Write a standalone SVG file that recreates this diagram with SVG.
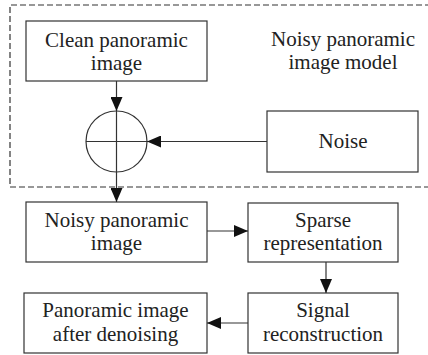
<svg xmlns="http://www.w3.org/2000/svg" width="428" height="355" viewBox="0 0 428 355">
<style>
.box{fill:#fff;stroke:#333;stroke-width:1.2}
.ln{fill:none;stroke:#333;stroke-width:1.2}
.dash{fill:none;stroke:#333;stroke-width:1.2;stroke-dasharray:6,3}
</style>
<defs>
<marker id="ah" markerUnits="userSpaceOnUse" markerWidth="14" markerHeight="12" refX="14" refY="6" orient="auto">
<path d="M0,0 L14,6 L0,12 z" fill="#111"/>
</marker>
</defs>
<g font-family="Liberation Serif, Times New Roman, serif" font-size="21" fill="#222" text-anchor="middle">
<g id="model-boundary">
<path class="dash" d="M440,5 H10 V187 H440"/>
<text x="343" y="46">Noisy panoramic</text>
<text x="343" y="69">image model</text>
</g>
<g id="clean">
<rect class="box" x="26" y="21" width="181" height="60"/>
<text x="116.5" y="47">Clean panoramic</text>
<text x="116.5" y="70">image</text>
</g>
<g id="sum">
<circle class="ln" cx="116.5" cy="141.5" r="30.5"/>
<path class="ln" d="M116.5,111 V172 M86,141.5 H147"/>
</g>
<g id="noise">
<rect class="box" x="267" y="111" width="151" height="61"/>
<text x="343" y="148">Noise</text>
</g>
<g id="noisy">
<rect class="box" x="26" y="202" width="181" height="60"/>
<text x="116.5" y="227">Noisy panoramic</text>
<text x="116.5" y="250">image</text>
</g>
<g id="sparse">
<rect class="box" x="248" y="203" width="150" height="59"/>
<text x="323" y="227">Sparse</text>
<text x="323" y="250">representation</text>
</g>
<g id="signal">
<rect class="box" x="248" y="293" width="150" height="60"/>
<text x="323" y="317">Signal</text>
<text x="323" y="341">reconstruction</text>
</g>
<g id="denoised">
<rect class="box" x="24" y="293" width="183" height="60"/>
<text x="115.5" y="317">Panoramic image</text>
<text x="115.5" y="341">after denoising</text>
</g>
</g>
<g id="connectors">
<path class="ln" d="M116.5,81 V111" marker-end="url(#ah)"/>
<path class="ln" d="M267,141.5 H147" marker-end="url(#ah)"/>
<path class="ln" d="M116.5,172 V202" marker-end="url(#ah)"/>
<path class="ln" d="M207,231 H248" marker-end="url(#ah)"/>
<path class="ln" d="M326,262 V293" marker-end="url(#ah)"/>
<path class="ln" d="M248,323 H207" marker-end="url(#ah)"/>
</g>
</svg>
